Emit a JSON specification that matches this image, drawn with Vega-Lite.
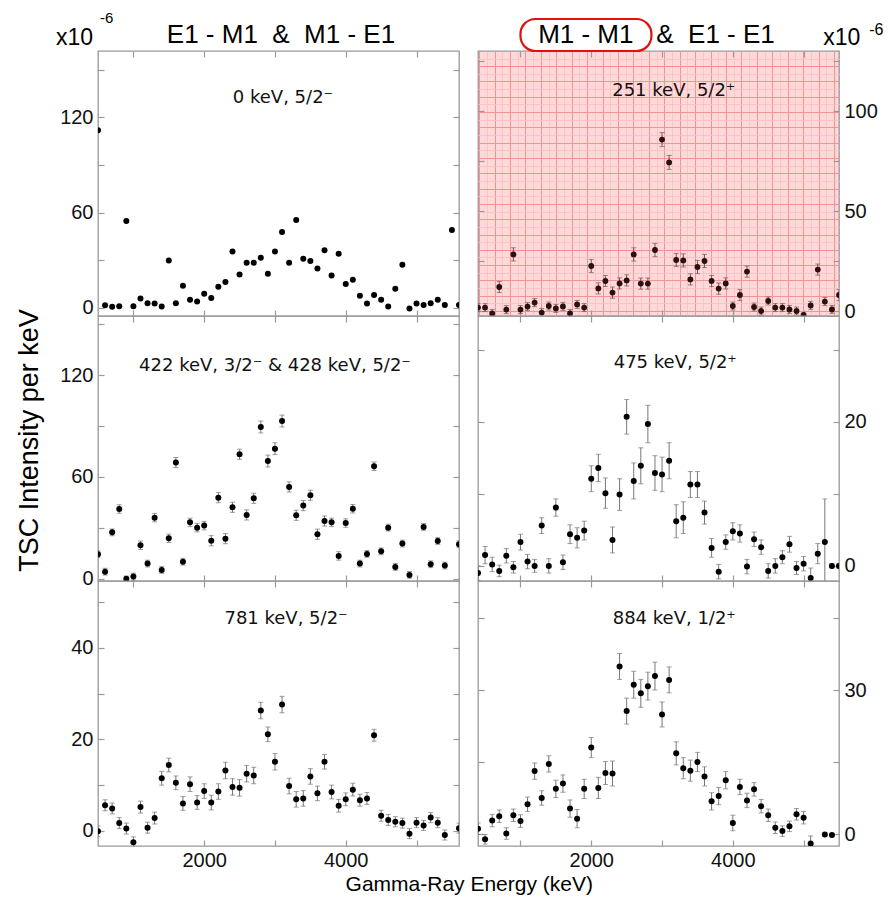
{
  "$schema": "https://vega.github.io/schema/vega-lite/v6.json",
  "background": "white",
  "padding": {"left": 16, "top": 10, "right": 4, "bottom": 4},
  "datasets": {
    "tl": [
      {"e":500,"v":111.8},{"e":600,"v":1.5},{"e":700,"v":0.6},{"e":800,"v":1.0},{"e":900,"v":54.6},{"e":1000,"v":1.0},{"e":1100,"v":5.9},{"e":1200,"v":2.9},{"e":1300,"v":2.7},{"e":1400,"v":0.8},
      {"e":1500,"v":29.8},{"e":1600,"v":2.9},{"e":1700,"v":13.9},{"e":1800,"v":5.0},{"e":1900,"v":4.0},{"e":2000,"v":8.8},{"e":2100,"v":6.1},{"e":2200,"v":13.2},{"e":2300,"v":16.2},{"e":2400,"v":35.5},
      {"e":2500,"v":21.0},{"e":2600,"v":28.4},{"e":2700,"v":28.4},{"e":2800,"v":31.5},{"e":2900,"v":21.4},{"e":3000,"v":35.5},{"e":3100,"v":47.7},{"e":3200,"v":28.4},{"e":3300,"v":55.3},{"e":3400,"v":30.9},
      {"e":3500,"v":29.4},{"e":3600,"v":24.8},{"e":3700,"v":36.3},{"e":3800,"v":20.4},{"e":3900,"v":34.0},{"e":4000,"v":14.9},{"e":4100,"v":17.6},{"e":4200,"v":7.6},{"e":4300,"v":2.7},{"e":4400,"v":8.0},
      {"e":4500,"v":5.0},{"e":4600,"v":0.8},{"e":4700,"v":12.0},{"e":4800,"v":27.1},{"e":4900,"v":-0.4},{"e":5000,"v":2.7},{"e":5100,"v":1.7},{"e":5200,"v":2.9},{"e":5300,"v":5.0},{"e":5400,"v":1.7},
      {"e":5500,"v":49.0},{"e":5600,"v":1.7}
    ],
    "ml": [
      {"e":500,"v":14.4,"err":2},{"e":600,"v":4.1,"err":2},{"e":700,"v":27.3,"err":2},{"e":800,"v":41.1,"err":2.5},{"e":900,"v":0.0,"err":1.5},{"e":1000,"v":1.2,"err":2},{"e":1100,"v":19.7,"err":2.5},{"e":1200,"v":8.9,"err":2},{"e":1300,"v":36.0,"err":2.5},{"e":1400,"v":5.1,"err":2},
      {"e":1500,"v":23.8,"err":2.5},{"e":1600,"v":68.5,"err":3},{"e":1700,"v":10.0,"err":2},{"e":1800,"v":33.2,"err":2.5},{"e":1900,"v":30.1,"err":2.5},{"e":2000,"v":31.3,"err":2.5},{"e":2100,"v":22.4,"err":3},{"e":2200,"v":47.8,"err":3},{"e":2300,"v":23.6,"err":3},{"e":2400,"v":42.1,"err":3},
      {"e":2500,"v":73.4,"err":3},{"e":2600,"v":37.6,"err":3},{"e":2700,"v":47.4,"err":3},{"e":2800,"v":89.5,"err":3.5},{"e":2900,"v":69.4,"err":3.5},{"e":3000,"v":76.7,"err":3.5},{"e":3100,"v":93.0,"err":3.5},{"e":3200,"v":54.1,"err":3},{"e":3300,"v":37.4,"err":3},{"e":3400,"v":43.1,"err":3},
      {"e":3500,"v":49.2,"err":3},{"e":3600,"v":26.2,"err":3},{"e":3700,"v":34.0,"err":3},{"e":3800,"v":33.2,"err":2.5},{"e":3900,"v":13.4,"err":2.5},{"e":4000,"v":32.8,"err":2.5},{"e":4100,"v":41.3,"err":2.5},{"e":4200,"v":8.9,"err":2},{"e":4300,"v":14.6,"err":2},{"e":4400,"v":66.3,"err":2.5},
      {"e":4500,"v":16.1,"err":2},{"e":4600,"v":30.1,"err":2},{"e":4700,"v":6.9,"err":2},{"e":4800,"v":20.7,"err":2},{"e":4900,"v":2.2,"err":2},{"e":5100,"v":30.5,"err":2},{"e":5200,"v":8.5,"err":2},{"e":5300,"v":22.2,"err":2},{"e":5400,"v":7.7,"err":2},{"e":5600,"v":20.3,"err":2}
    ],
    "bl": [
      {"e":500,"v":-0.1,"err":1.2},{"e":600,"v":5.6,"err":1.2},{"e":700,"v":4.9,"err":1.2},{"e":800,"v":1.7,"err":1.2},{"e":900,"v":0.5,"err":1.2},{"e":1000,"v":-2.5,"err":1.2},{"e":1100,"v":5.2,"err":1.3},{"e":1200,"v":0.7,"err":1.2},{"e":1300,"v":2.8,"err":1.3},{"e":1400,"v":11.5,"err":1.5},
      {"e":1500,"v":14.4,"err":1.5},{"e":1600,"v":10.5,"err":1.5},{"e":1700,"v":6.0,"err":1.5},{"e":1800,"v":10.2,"err":1.6},{"e":1900,"v":6.2,"err":1.5},{"e":2000,"v":8.7,"err":1.6},{"e":2100,"v":6.2,"err":1.6},{"e":2200,"v":8.6,"err":1.7},{"e":2300,"v":13.2,"err":1.8},{"e":2400,"v":9.6,"err":1.8},
      {"e":2500,"v":9.4,"err":1.8},{"e":2600,"v":12.5,"err":1.8},{"e":2700,"v":12.1,"err":1.8},{"e":2800,"v":26.3,"err":1.8},{"e":2900,"v":21.1,"err":1.6},{"e":3000,"v":15.1,"err":1.8},{"e":3100,"v":27.6,"err":1.8},{"e":3200,"v":9.8,"err":1.7},{"e":3300,"v":6.9,"err":1.7},{"e":3400,"v":7.1,"err":1.7},
      {"e":3500,"v":11.9,"err":1.7},{"e":3600,"v":8.2,"err":1.6},{"e":3700,"v":15.1,"err":1.6},{"e":3800,"v":8.5,"err":1.5},{"e":3900,"v":5.5,"err":1.4},{"e":4000,"v":6.9,"err":1.4},{"e":4100,"v":9.0,"err":1.4},{"e":4200,"v":6.7,"err":1.3},{"e":4300,"v":7.1,"err":1.3},{"e":4400,"v":20.9,"err":1.3},
      {"e":4500,"v":3.3,"err":1.2},{"e":4600,"v":2.4,"err":1.2},{"e":4700,"v":2.0,"err":1.1},{"e":4800,"v":1.7,"err":1.1},{"e":4900,"v":-0.6,"err":1.1},{"e":5000,"v":1.8,"err":1.1},{"e":5100,"v":1.2,"err":1.1},{"e":5200,"v":2.9,"err":1.1},{"e":5300,"v":1.8,"err":1.1},{"e":5400,"v":-0.9,"err":1.1},
      {"e":5600,"v":0.6,"err":1.1}
    ],
    "tr": [
      {"e":400,"v":1.7,"err":2},{"e":500,"v":1.7,"err":2},{"e":600,"v":-1.2,"err":2},{"e":700,"v":12.0,"err":2.8},{"e":800,"v":0.7,"err":2},{"e":900,"v":28.3,"err":3.3},{"e":1000,"v":0.7,"err":2},{"e":1100,"v":2.2,"err":2},{"e":1200,"v":4.2,"err":2},{"e":1300,"v":-0.8,"err":2},
      {"e":1400,"v":2.5,"err":2},{"e":1500,"v":1.3,"err":2},{"e":1600,"v":2.3,"err":2},{"e":1700,"v":-1.2,"err":2},{"e":1800,"v":3.3,"err":2},{"e":1900,"v":1.7,"err":2},{"e":2000,"v":22.5,"err":3.3},{"e":2100,"v":11.3,"err":2.8},{"e":2200,"v":15.0,"err":2.8},{"e":2300,"v":9.2,"err":2.8},
      {"e":2400,"v":13.8,"err":2.8},{"e":2500,"v":15.3,"err":2.8},{"e":2600,"v":28.3,"err":3.3},{"e":2700,"v":13.7,"err":2.8},{"e":2800,"v":13.7,"err":2.8},{"e":2900,"v":30.5,"err":3.3},{"e":3000,"v":85.7,"err":3.5},{"e":3100,"v":74.3,"err":3.5},{"e":3200,"v":25.5,"err":3.3},{"e":3300,"v":25.3,"err":3.3},
      {"e":3400,"v":15.8,"err":2.8},{"e":3500,"v":22.0,"err":3.3},{"e":3600,"v":25.0,"err":3.3},{"e":3700,"v":15.0,"err":2.8},{"e":3800,"v":11.2,"err":2.8},{"e":3900,"v":13.8,"err":2.8},{"e":4000,"v":2.5,"err":2},{"e":4100,"v":8.0,"err":2.8},{"e":4200,"v":19.7,"err":2.8},{"e":4300,"v":2.0,"err":2},
      {"e":4400,"v":0.0,"err":2},{"e":4500,"v":5.0,"err":2},{"e":4600,"v":1.7,"err":2},{"e":4700,"v":1.7,"err":2},{"e":4800,"v":0.8,"err":2},{"e":4900,"v":0.0,"err":2},{"e":5000,"v":-2.0,"err":1},{"e":5100,"v":2.8,"err":2},{"e":5200,"v":20.7,"err":2.8},{"e":5300,"v":4.7,"err":2},
      {"e":5400,"v":0.8,"err":2},{"e":5500,"v":8.0,"err":2.8}
    ],
    "mr": [
      {"e":400,"v":-1.0,"err":1.0},{"e":500,"v":1.5,"err":1.2},{"e":600,"v":0.2,"err":1.0},{"e":700,"v":-0.7,"err":0.8},{"e":800,"v":1.4,"err":1.0},{"e":900,"v":-0.2,"err":0.8},{"e":1000,"v":3.3,"err":1.1},{"e":1100,"v":0.6,"err":1.0},{"e":1200,"v":0.0,"err":0.9},{"e":1300,"v":5.6,"err":1.1},
      {"e":1400,"v":0.0,"err":1.0},{"e":1500,"v":8.1,"err":1.2},{"e":1600,"v":0.5,"err":1.0},{"e":1700,"v":4.4,"err":1.3},{"e":1800,"v":3.9,"err":1.4},{"e":1900,"v":4.9,"err":1.3},{"e":2000,"v":12.1,"err":1.8},{"e":2100,"v":13.6,"err":1.9},{"e":2200,"v":10.1,"err":2.1},{"e":2300,"v":3.6,"err":1.8},
      {"e":2400,"v":9.9,"err":2.2},{"e":2500,"v":20.7,"err":2.4},{"e":2600,"v":11.8,"err":2.5},{"e":2700,"v":13.9,"err":2.5},{"e":2800,"v":19.7,"err":2.6},{"e":2900,"v":12.9,"err":2.4},{"e":3000,"v":12.7,"err":2.4},{"e":3100,"v":14.6,"err":2.5},{"e":3200,"v":6.2,"err":2.3},{"e":3300,"v":6.7,"err":2.2},
      {"e":3400,"v":11.3,"err":1.8},{"e":3500,"v":11.3,"err":1.8},{"e":3600,"v":7.4,"err":1.6},{"e":3700,"v":2.5,"err":1.3},{"e":3800,"v":-0.8,"err":1.0},{"e":3900,"v":3.3,"err":1.0},{"e":4000,"v":4.8,"err":1.2},{"e":4100,"v":4.5,"err":1.2},{"e":4200,"v":-0.1,"err":1.0},{"e":4300,"v":3.7,"err":1.0},
      {"e":4400,"v":2.6,"err":1.0},{"e":4500,"v":-0.7,"err":1.0},{"e":4600,"v":0.0,"err":1.0},{"e":4700,"v":1.2,"err":0.9},{"e":4800,"v":3.0,"err":1.1},{"e":4900,"v":-0.3,"err":0.9},{"e":5000,"v":0.3,"err":1.0},{"e":5100,"v":-1.7,"err":1.4},{"e":5200,"v":1.7,"err":1.4},{"e":5300,"v":3.3,"err":6.0},
      {"e":5400,"v":0.0,"err":0.3},{"e":5500,"v":0.0,"err":0.3}
    ],
    "br": [
      {"e":400,"v":1.2,"err":1.2},{"e":500,"v":-1.0,"err":1.0},{"e":600,"v":2.9,"err":1.3},{"e":700,"v":3.8,"err":1.3},{"e":800,"v":0.2,"err":1.2},{"e":900,"v":4.0,"err":1.3},{"e":1000,"v":2.8,"err":1.3},{"e":1100,"v":6.3,"err":1.5},{"e":1200,"v":13.2,"err":1.7},{"e":1300,"v":7.6,"err":1.5},
      {"e":1400,"v":14.7,"err":1.7},{"e":1500,"v":9.5,"err":1.8},{"e":1600,"v":10.6,"err":1.8},{"e":1700,"v":5.4,"err":1.8},{"e":1800,"v":3.3,"err":1.9},{"e":1900,"v":9.5,"err":2.0},{"e":2000,"v":18.1,"err":2.1},{"e":2100,"v":9.7,"err":2.2},{"e":2200,"v":12.8,"err":2.4},{"e":2300,"v":12.7,"err":2.6},
      {"e":2400,"v":35.0,"err":2.7},{"e":2500,"v":25.7,"err":2.7},{"e":2600,"v":31.2,"err":2.8},{"e":2700,"v":29.4,"err":2.9},{"e":2800,"v":30.9,"err":2.9},{"e":2900,"v":33.0,"err":2.9},{"e":3000,"v":25.0,"err":2.6},{"e":3100,"v":32.2,"err":2.7},{"e":3200,"v":16.9,"err":2.4},{"e":3300,"v":13.8,"err":2.2},
      {"e":3400,"v":13.3,"err":2.2},{"e":3500,"v":15.1,"err":2.0},{"e":3600,"v":12.1,"err":2.0},{"e":3700,"v":6.9,"err":1.8},{"e":3800,"v":8.0,"err":1.8},{"e":3900,"v":11.3,"err":1.8},{"e":4000,"v":2.4,"err":1.6},{"e":4100,"v":9.9,"err":1.6},{"e":4200,"v":7.1,"err":1.5},{"e":4300,"v":9.4,"err":1.4},
      {"e":4400,"v":5.9,"err":1.4},{"e":4500,"v":4.0,"err":1.3},{"e":4600,"v":1.4,"err":1.2},{"e":4700,"v":0.7,"err":1.1},{"e":4800,"v":1.7,"err":1.1},{"e":4900,"v":4.2,"err":1.2},{"e":5000,"v":3.5,"err":1.3},{"e":5100,"v":-1.9,"err":1.6},{"e":5300,"v":0.0,"err":0.3},{"e":5400,"v":-0.1,"err":0.3}
    ]
  },
  "title": {"text": "Gamma-Ray Energy (keV)", "orient": "bottom", "anchor": "middle", "fontSize": 21, "font": "Liberation Sans", "fontWeight": "normal", "color": "#000", "offset": 3, "dx": 19},
  "vconcat": [
    {
      "title": {"text": "TSC Intensity per keV", "orient": "left", "anchor": "middle", "fontSize": 27, "font": "Liberation Sans", "fontWeight": "normal", "color": "#000", "offset": 11},
      "columns": 2,
      "bounds": "flush",
      "spacing": {"row": 0, "column": 19},
      "concat": [
        {
          "width": 361, "height": 265,
          "data": {"name": "tl"},
          "layer": [
            {"mark": {"type": "circle", "size": 36, "color": "#000", "opacity": 1, "clip": true},
             "encoding": {
               "x": {"field": "e", "type": "quantitative", "scale": {"domain": [500, 5600], "nice": false, "zero": false},
                     "axis": {"orient": "bottom", "values": [1000, 2000, 3000, 4000, 5000], "labels": false, "tickSize": 6, "offset": -6, "title": null}},
               "y": {"field": "v", "type": "quantitative", "scale": {"domain": [-5.2, 161.8], "nice": false, "zero": false},
                     "axis": {"orient": "left", "values": [0, 30, 60, 90, 120, 150], "labelExpr": "datum.value % 60 == 0 ? datum.label : ''", "tickSize": 6, "offset": -6, "labelPadding": 5, "title": null}}
             }},
            {"mark": {"type": "point", "opacity": 0},
             "encoding": {
               "x": {"field": "e", "type": "quantitative", "axis": {"orient": "top", "values": [1000, 2000, 3000, 4000, 5000], "labels": false, "tickSize": 6, "offset": -6, "title": null}},
               "y": {"field": "v", "type": "quantitative", "axis": {"orient": "right", "values": [0, 30, 60, 90, 120, 150], "labels": false, "tickSize": 6, "offset": -6, "title": null}}
             }},
            {"data": {"values": [{"label": "0 keV, 5/2⁻"}]},
             "mark": {"type": "text", "font": "DejaVu Sans", "fontSize": 18, "color": "#111", "baseline": "middle"},
             "encoding": {"x": {"datum": 3113, "type": "quantitative", "axis": null}, "y": {"datum": 132, "type": "quantitative", "axis": null}, "text": {"field": "label"}}},
            {"data": {"values": [{"label": "E1 - M1 \u00a0&\u00a0 M1 - E1"}]},
             "mark": {"type": "text", "font": "Liberation Sans", "fontSize": 26, "color": "#000", "baseline": "alphabetic", "clip": false},
             "encoding": {"x": {"datum": 3085, "type": "quantitative", "axis": null}, "y": {"datum": 166.8, "type": "quantitative", "axis": null}, "text": {"field": "label"}}},
            {"data": {"values": [{"label": "x10"}]},
             "mark": {"type": "text", "font": "Liberation Sans", "fontSize": 23, "color": "#000", "align": "left", "baseline": "alphabetic", "clip": false},
             "encoding": {"x": {"datum": -93, "type": "quantitative", "axis": null}, "y": {"datum": 165.6, "type": "quantitative", "axis": null}, "text": {"field": "label"}}},
            {"data": {"values": [{"label": "-6"}]},
             "mark": {"type": "text", "font": "Liberation Sans", "fontSize": 15, "color": "#000", "align": "left", "baseline": "alphabetic", "clip": false},
             "encoding": {"x": {"datum": 528, "type": "quantitative", "axis": null}, "y": {"datum": 179.4, "type": "quantitative", "axis": null}, "text": {"field": "label"}}}
          ],
          "resolve": {"axis": {"x": "independent", "y": "independent"}}
        },
        {
          "width": 361, "height": 265,
          "view": {"fill": "#ffd9d9", "stroke": "#999"},
          "data": {"name": "tr"},
          "layer": [
            {"mark": {"type": "point", "opacity": 0},
             "encoding": {
               "x": {"field": "e", "type": "quantitative", "axis": {"orient": "bottom", "values": [525, 743, 961, 1179, 1397, 1615, 1833, 2051, 2269, 2487, 2705, 2923, 3141, 3359, 3577, 3795, 4013, 4231, 4449, 4667, 4885, 5103, 5321], "grid": true, "gridColor": "#fac0c0", "gridWidth": 0.8, "ticks": false, "labels": false, "domain": false, "offset": 0, "title": null}},
               "y": {"field": "v", "type": "quantitative", "axis": {"orient": "left", "values": [3.83, 11.48, 19.13, 26.78, 34.43, 42.08, 49.73, 57.38, 65.03, 72.68, 80.33, 87.98, 95.63, 103.28, 110.93, 118.58, 126.23], "grid": true, "gridColor": "#fac0c0", "gridWidth": 0.8, "ticks": false, "labels": false, "domain": false, "offset": 0, "title": null}}
             }},
            {"mark": {"type": "point", "opacity": 0},
             "encoding": {
               "x": {"field": "e", "type": "quantitative", "axis": {"orient": "bottom", "values": [416, 634, 852, 1070, 1288, 1506, 1724, 1942, 2160, 2378, 2596, 2814, 3032, 3250, 3468, 3686, 3904, 4122, 4340, 4558, 4776, 4994, 5212, 5430], "grid": true, "gridColor": "#f29494", "gridWidth": 1, "ticks": false, "labels": false, "domain": false, "offset": 0, "title": null}},
               "y": {"field": "v", "type": "quantitative", "axis": {"orient": "left", "values": [0, 7.65, 15.3, 22.95, 30.6, 38.25, 45.9, 53.55, 61.2, 68.85, 76.5, 84.15, 91.8, 99.45, 107.1, 114.75, 122.4], "grid": true, "gridColor": "#f29494", "gridWidth": 1, "ticks": false, "labels": false, "domain": false, "offset": 0, "title": null}}
             }},
            {"mark": {"type": "errorbar", "ticks": {"size": 5, "color": "#7a5555"}, "color": "#7a5555", "thickness": 1, "clip": true},
             "encoding": {
               "x": {"field": "e", "type": "quantitative", "axis": null},
               "y": {"field": "v", "type": "quantitative", "axis": null},
               "yError": {"field": "err"}
             }},
            {"mark": {"type": "circle", "size": 34, "color": "#2a1010", "opacity": 1, "clip": true},
             "encoding": {
               "x": {"field": "e", "type": "quantitative", "scale": {"domain": [400, 5500], "nice": false, "zero": false},
                     "axis": {"orient": "bottom", "values": [1000, 2000, 3000, 4000, 5000], "labels": false, "tickSize": 6, "offset": -6, "title": null}},
               "y": {"field": "v", "type": "quantitative", "scale": {"domain": [-2.5, 130], "nice": false, "zero": false},
                     "axis": {"orient": "right", "values": [0, 25, 50, 75, 100, 125], "labelExpr": "datum.value % 50 == 0 ? datum.label : ''", "tickSize": 6, "offset": -6, "labelPadding": 5, "title": null}}
             }},
            {"mark": {"type": "point", "opacity": 0},
             "encoding": {
               "x": {"field": "e", "type": "quantitative", "axis": {"orient": "top", "values": [1000, 2000, 3000, 4000, 5000], "labels": false, "tickSize": 6, "offset": -6, "title": null}},
               "y": {"field": "v", "type": "quantitative", "axis": {"orient": "left", "values": [0, 25, 50, 75, 100, 125], "labels": false, "tickSize": 6, "offset": -6, "title": null}}
             }},
            {"data": {"values": [{"label": "251 keV, 5/2⁺"}]},
             "mark": {"type": "text", "font": "DejaVu Sans", "fontSize": 18, "color": "#111", "baseline": "middle"},
             "encoding": {"x": {"datum": 3166, "type": "quantitative", "axis": null}, "y": {"datum": 110, "type": "quantitative", "axis": null}, "text": {"field": "label"}}},
            {"data": {"values": [{"label": "M1 - M1"}]},
             "mark": {"type": "text", "font": "Liberation Sans", "fontSize": 26, "color": "#000", "baseline": "alphabetic", "clip": false},
             "encoding": {"x": {"datum": 1923, "type": "quantitative", "axis": null}, "y": {"datum": 134, "type": "quantitative", "axis": null}, "text": {"field": "label"}}},
            {"data": {"values": [{"label": "& \u00a0E1 - E1"}]},
             "mark": {"type": "text", "font": "Liberation Sans", "fontSize": 26, "color": "#000", "align": "left", "baseline": "alphabetic", "clip": false},
             "encoding": {"x": {"datum": 2919, "type": "quantitative", "axis": null}, "y": {"datum": 134, "type": "quantitative", "axis": null}, "text": {"field": "label"}}},
            {"data": {"values": [{"box": "M1 - M1"}]},
             "mark": {"type": "rect", "filled": false, "stroke": "#e31010", "strokeWidth": 2.2, "cornerRadius": 15, "clip": false},
             "encoding": {"x": {"datum": 1000, "type": "quantitative", "axis": null}, "x2": {"datum": 2850}, "y": {"datum": 130, "type": "quantitative", "axis": null}, "y2": {"datum": 146}}},
            {"data": {"values": [{"label": "x10"}]},
             "mark": {"type": "text", "font": "Liberation Sans", "fontSize": 23, "color": "#000", "align": "left", "baseline": "alphabetic", "clip": false},
             "encoding": {"x": {"datum": 5278, "type": "quantitative", "axis": null}, "y": {"datum": 133, "type": "quantitative", "axis": null}, "text": {"field": "label"}}},
            {"data": {"values": [{"label": "-6"}]},
             "mark": {"type": "text", "font": "Liberation Sans", "fontSize": 16, "color": "#000", "align": "left", "baseline": "alphabetic", "clip": false},
             "encoding": {"x": {"datum": 5928, "type": "quantitative", "axis": null}, "y": {"datum": 138, "type": "quantitative", "axis": null}, "text": {"field": "label"}}}
          ],
          "resolve": {"axis": {"x": "independent", "y": "independent"}}
        },
        {
          "width": 361, "height": 265,
          "data": {"name": "ml"},
          "layer": [
            {"mark": {"type": "errorbar", "ticks": {"size": 5, "color": "#777"}, "color": "#777", "thickness": 1, "clip": true},
             "encoding": {
               "x": {"field": "e", "type": "quantitative", "axis": null},
               "y": {"field": "v", "type": "quantitative", "axis": null},
               "yError": {"field": "err"}
             }},
            {"mark": {"type": "circle", "size": 36, "color": "#000", "opacity": 1, "clip": true},
             "encoding": {
               "x": {"field": "e", "type": "quantitative", "scale": {"domain": [500, 5600], "nice": false, "zero": false},
                     "axis": {"orient": "bottom", "values": [1000, 2000, 3000, 4000, 5000], "labels": false, "tickSize": 6, "offset": -6, "title": null}},
               "y": {"field": "v", "type": "quantitative", "scale": {"domain": [-1.4, 155], "nice": false, "zero": false},
                     "axis": {"orient": "left", "values": [0, 30, 60, 90, 120, 150], "labelExpr": "datum.value % 60 == 0 ? datum.label : ''", "tickSize": 6, "offset": -6, "labelPadding": 5, "title": null}}
             }},
            {"mark": {"type": "point", "opacity": 0},
             "encoding": {
               "x": {"field": "e", "type": "quantitative", "axis": {"orient": "top", "values": [1000, 2000, 3000, 4000, 5000], "labels": false, "tickSize": 6, "offset": -6, "title": null}},
               "y": {"field": "v", "type": "quantitative", "axis": {"orient": "right", "values": [0, 30, 60, 90, 120, 150], "labels": false, "tickSize": 6, "offset": -6, "title": null}}
             }},
            {"data": {"values": [{"label": "422 keV, 3/2⁻ & 428 keV, 5/2⁻"}]},
             "mark": {"type": "text", "font": "DejaVu Sans", "fontSize": 18, "color": "#111", "baseline": "middle"},
             "encoding": {"x": {"datum": 3000, "type": "quantitative", "axis": null}, "y": {"datum": 125.6, "type": "quantitative", "axis": null}, "text": {"field": "label"}}}
          ],
          "resolve": {"axis": {"x": "independent", "y": "independent"}}
        },
        {
          "width": 361, "height": 265,
          "data": {"name": "mr"},
          "layer": [
            {"mark": {"type": "errorbar", "ticks": {"size": 5, "color": "#777"}, "color": "#777", "thickness": 1, "clip": true},
             "encoding": {
               "x": {"field": "e", "type": "quantitative", "axis": null},
               "y": {"field": "v", "type": "quantitative", "axis": null},
               "yError": {"field": "err"}
             }},
            {"mark": {"type": "circle", "size": 36, "color": "#000", "opacity": 1, "clip": true},
             "encoding": {
               "x": {"field": "e", "type": "quantitative", "scale": {"domain": [400, 5500], "nice": false, "zero": false},
                     "axis": {"orient": "bottom", "values": [1000, 2000, 3000, 4000, 5000], "labels": false, "tickSize": 6, "offset": -6, "title": null}},
               "y": {"field": "v", "type": "quantitative", "scale": {"domain": [-2.1, 34.7], "nice": false, "zero": false},
                     "axis": {"orient": "right", "values": [0, 10, 20, 30], "labelExpr": "datum.value % 20 == 0 ? datum.label : ''", "tickSize": 6, "offset": -6, "labelPadding": 5, "title": null}}
             }},
            {"mark": {"type": "point", "opacity": 0},
             "encoding": {
               "x": {"field": "e", "type": "quantitative", "axis": {"orient": "top", "values": [1000, 2000, 3000, 4000, 5000], "labels": false, "tickSize": 6, "offset": -6, "title": null}},
               "y": {"field": "v", "type": "quantitative", "axis": {"orient": "left", "values": [0, 10, 20, 30], "labels": false, "tickSize": 6, "offset": -6, "title": null}}
             }},
            {"data": {"values": [{"label": "475 keV, 5/2⁺"}]},
             "mark": {"type": "text", "font": "DejaVu Sans", "fontSize": 18, "color": "#111", "baseline": "middle"},
             "encoding": {"x": {"datum": 3187, "type": "quantitative", "axis": null}, "y": {"datum": 28.2, "type": "quantitative", "axis": null}, "text": {"field": "label"}}}
          ],
          "resolve": {"axis": {"x": "independent", "y": "independent"}}
        },
        {
          "width": 361, "height": 265,
          "data": {"name": "bl"},
          "layer": [
            {"mark": {"type": "errorbar", "ticks": {"size": 5, "color": "#777"}, "color": "#777", "thickness": 1, "clip": true},
             "encoding": {
               "x": {"field": "e", "type": "quantitative", "axis": null},
               "y": {"field": "v", "type": "quantitative", "axis": null},
               "yError": {"field": "err"}
             }},
            {"mark": {"type": "circle", "size": 36, "color": "#000", "opacity": 1, "clip": true},
             "encoding": {
               "x": {"field": "e", "type": "quantitative", "scale": {"domain": [500, 5600], "nice": false, "zero": false},
                     "axis": {"orient": "bottom", "values": [1000, 2000, 3000, 4000, 5000], "format": "d", "labelExpr": "(datum.value == 2000 || datum.value == 4000) ? datum.label : ''", "labelFlush": false, "labelOverlap": false, "tickSize": 6, "offset": -6, "labelPadding": 4, "title": null}},
               "y": {"field": "v", "type": "quantitative", "scale": {"domain": [-3.3, 54.6], "nice": false, "zero": false},
                     "axis": {"orient": "left", "values": [0, 10, 20, 30, 40, 50], "labelExpr": "datum.value % 20 == 0 ? datum.label : ''", "tickSize": 6, "offset": -6, "labelPadding": 5, "title": null}}
             }},
            {"mark": {"type": "point", "opacity": 0},
             "encoding": {
               "x": {"field": "e", "type": "quantitative", "axis": {"orient": "top", "values": [1000, 2000, 3000, 4000, 5000], "labels": false, "tickSize": 6, "offset": -6, "title": null}},
               "y": {"field": "v", "type": "quantitative", "axis": {"orient": "right", "values": [0, 10, 20, 30, 40, 50], "labels": false, "tickSize": 6, "offset": -6, "title": null}}
             }},
            {"data": {"values": [{"label": "781 keV, 5/2⁻"}]},
             "mark": {"type": "text", "font": "DejaVu Sans", "fontSize": 18, "color": "#111", "baseline": "middle"},
             "encoding": {"x": {"datum": 3156, "type": "quantitative", "axis": null}, "y": {"datum": 46.3, "type": "quantitative", "axis": null}, "text": {"field": "label"}}}
          ],
          "resolve": {"axis": {"x": "independent", "y": "independent"}}
        },
        {
          "width": 361, "height": 265,
          "data": {"name": "br"},
          "layer": [
            {"mark": {"type": "errorbar", "ticks": {"size": 5, "color": "#777"}, "color": "#777", "thickness": 1, "clip": true},
             "encoding": {
               "x": {"field": "e", "type": "quantitative", "axis": null},
               "y": {"field": "v", "type": "quantitative", "axis": null},
               "yError": {"field": "err"}
             }},
            {"mark": {"type": "circle", "size": 36, "color": "#000", "opacity": 1, "clip": true},
             "encoding": {
               "x": {"field": "e", "type": "quantitative", "scale": {"domain": [400, 5500], "nice": false, "zero": false},
                     "axis": {"orient": "bottom", "values": [1000, 2000, 3000, 4000, 5000], "format": "d", "labelExpr": "(datum.value == 2000 || datum.value == 4000) ? datum.label : ''", "labelFlush": false, "labelOverlap": false, "tickSize": 6, "offset": -6, "labelPadding": 4, "title": null}},
               "y": {"field": "v", "type": "quantitative", "scale": {"domain": [-2.4, 52.8], "nice": false, "zero": false},
                     "axis": {"orient": "right", "values": [0, 15, 30, 45], "labelExpr": "datum.value % 30 == 0 ? datum.label : ''", "tickSize": 6, "offset": -6, "labelPadding": 5, "title": null}}
             }},
            {"mark": {"type": "point", "opacity": 0},
             "encoding": {
               "x": {"field": "e", "type": "quantitative", "axis": {"orient": "top", "values": [1000, 2000, 3000, 4000, 5000], "labels": false, "tickSize": 6, "offset": -6, "title": null}},
               "y": {"field": "v", "type": "quantitative", "axis": {"orient": "left", "values": [0, 15, 30, 45], "labels": false, "tickSize": 6, "offset": -6, "title": null}}
             }},
            {"data": {"values": [{"label": "884 keV, 1/2⁺"}]},
             "mark": {"type": "text", "font": "DejaVu Sans", "fontSize": 18, "color": "#111", "baseline": "middle"},
             "encoding": {"x": {"datum": 3173, "type": "quantitative", "axis": null}, "y": {"datum": 44.9, "type": "quantitative", "axis": null}, "text": {"field": "label"}}}
          ],
          "resolve": {"axis": {"x": "independent", "y": "independent"}}
        }
      ]
    }
  ],
  "config": {
    "view": {"stroke": "#999", "strokeWidth": 1.3},
    "axis": {"labelFont": "Liberation Sans", "labelFontSize": 20, "labelColor": "#111", "tickColor": "#999", "tickWidth": 1.2, "domain": false, "grid": false}
  }
}
